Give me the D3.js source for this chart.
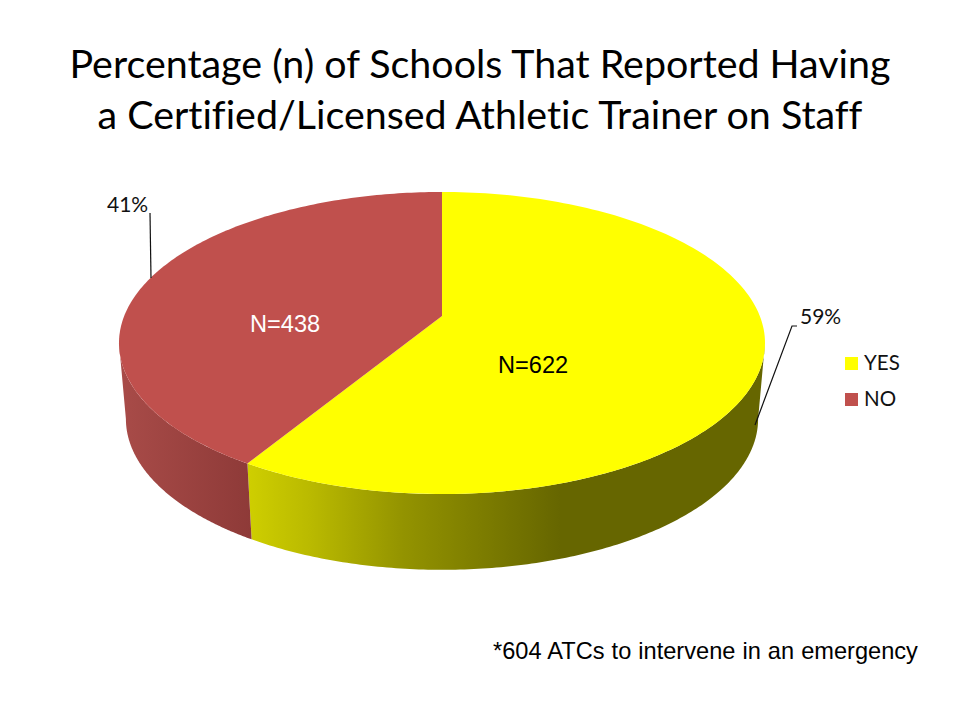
<!DOCTYPE html>
<html>
<head>
<meta charset="utf-8">
<script src="https://cdn.jsdelivr.net/npm/d3@7"></script>
<style>
html,body{margin:0;padding:0;background:#fff}
svg{display:block}
text{font-variant-ligatures:none}
</style>
</head>
<body>
<svg id="c" width="960" height="720"></svg>
<script>
const titleLines = ["Percentage (n) of Schools That Reported Having", "a Certified/Licensed Athletic Trainer on Staff"];
const categories = ["YES", "NO"];
const counts = [622, 438];
const percentLabels = ["59%", "41%"];
const countLabels = ["N=622", "N=438"];
const footnote = "*604 ATCs to intervene in an emergency";

const svg = d3.select("#c");
const W = { A: 317.8, B: 146.2, k: 0.1788, cx: 442, cy: 316 };
const Bm = { A: 311, B: 146, k: 0.1788, cx: 442, cy: 392 };

// Perspective projection of the pie's unit circle onto the picture
const project = (g, t, r = 1) => {
  const u = r * Math.sin(t), v = r * Math.cos(t), w = 1 + g.k * v;
  return [g.cx + g.A * u / w, g.cy - g.B * v / w];
};
const sample = (g, a, b) => d3.range(0, 161).map(i => project(g, a + (b - a) * i / 160));
const line = d3.line();

const arcs = d3.pie().sort(null)(counts);
const tSilR = Math.acos(-W.k), tSilL = 2 * Math.PI - tSilR;

const defs = svg.append("defs");
function grad(id, x1, x2, stops) {
  const g = defs.append("linearGradient").attr("id", id)
    .attr("gradientUnits", "userSpaceOnUse")
    .attr("x1", x1).attr("x2", x2).attr("y1", 0).attr("y2", 0);
  stops.forEach(s => g.append("stop").attr("offset", s[0]).attr("stop-color", s[1]));
}
grad("wallYes", 247, 560, [[0, "#cfcf00"], [0.2, "#baba00"], [0.5, "#939300"], [1, "#666600"]]);
grad("wallNo", 122, 252, [[0, "#a84b48"], [1, "#8e3a38"]]);

// Walls
const wallRange = [[tSilR, arcs[0].endAngle], [arcs[0].endAngle, tSilL]];
svg.selectAll("path.wall").data(wallRange).join("path")
  .attr("class", "wall")
  .attr("fill", (d, i) => i === 0 ? "url(#wallYes)" : "url(#wallNo)")
  .attr("d", d => line(sample(W, d[0], d[1]).concat(sample(Bm, d[0], d[1]).reverse())) + "Z");

// Top faces
svg.selectAll("path.face").data(arcs).join("path")
  .attr("class", "face")
  .attr("fill", (d, i) => i === 0 ? "#ffff00" : "#c0504d")
  .attr("d", d => line([[W.cx, W.cy]].concat(sample(W, d.startAngle, d.endAngle))) + "Z");

// Leaders
const leaders = [
  [[755, 425], [792, 326], [797, 326]],
  [[151, 278], [150, 213]]
];
svg.selectAll("path.leader").data(leaders).join("path")
  .attr("class", "leader").attr("fill", "none").attr("stroke", "#111").attr("stroke-width", 1.2)
  .attr("d", d => line(d));

// Title
svg.selectAll("text.title").data(titleLines).join("text")
  .attr("class", "title").attr("x", 480).attr("y", (d, i) => 78 + i * 51)
  .attr("text-anchor", "middle").attr("font-family", "Lato, sans-serif")
  .attr("font-size", 39.4).attr("fill", "#000").text(d => d);

// Percent labels
svg.selectAll("text.pct").data(percentLabels).join("text")
  .attr("class", "pct").attr("x", (d, i) => i === 0 ? 800 : 107).attr("y", (d, i) => i === 0 ? 324 : 212)
  .attr("font-family", "Lato, sans-serif").attr("font-size", 21).attr("fill", "#111").text(d => d);

// N labels
svg.selectAll("text.n").data(countLabels).join("text")
  .attr("class", "n").attr("x", (d, i) => i === 0 ? 498 : 250).attr("y", (d, i) => i === 0 ? 373 : 332)
  .attr("font-family", "'Liberation Sans', Arial, sans-serif").attr("font-size", 23.6)
  .attr("fill", (d, i) => i === 0 ? "#000" : "#fff").text(d => d);

// Legend
const leg = svg.selectAll("g.leg").data(categories).join("g")
  .attr("class", "leg").attr("transform", (d, i) => `translate(845,${357 + i * 36})`);
leg.append("rect").attr("width", 13).attr("height", 13)
  .attr("fill", (d, i) => i === 0 ? "#ffff00" : "#c0504d");
leg.append("text").attr("x", 19).attr("y", 13)
  .attr("font-family", "Lato, sans-serif").attr("font-size", 20.5).attr("fill", "#111").text(d => d);

// Footnote
svg.append("text").attr("x", 493).attr("y", 659)
  .attr("font-family", "'Liberation Sans', Arial, sans-serif").attr("font-size", 23.6)
  .attr("word-spacing", 0.5).attr("fill", "#000").text(footnote);
</script>
</body>
</html>
